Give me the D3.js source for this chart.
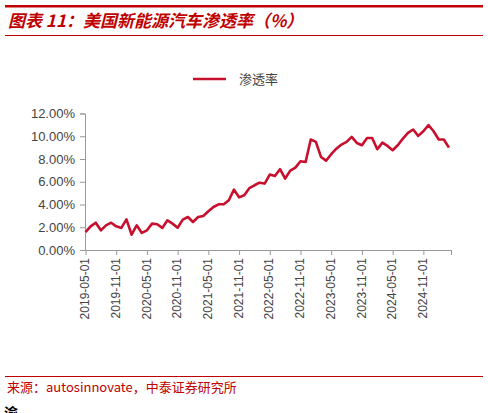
<!DOCTYPE html><html><head><meta charset="utf-8"><script src="https://cdn.jsdelivr.net/npm/d3@7"></script>
<style>body{margin:0;background:#fff}svg{font-family:"Liberation Sans",Arial,sans-serif}</style></head><body><svg id="c" width="488" height="413"></svg>
<script>
const startMonth = "2019-05";
const values = [1.58,2.08,2.40,1.73,2.17,2.40,2.08,1.94,2.70,1.35,2.17,1.50,1.73,2.32,2.26,1.94,2.61,2.32,1.96,2.67,2.90,2.46,2.90,2.99,3.40,3.78,4.02,4.02,4.37,5.31,4.63,4.81,5.43,5.69,5.92,5.84,6.63,6.51,7.10,6.28,6.98,7.24,7.80,7.74,9.71,9.50,8.18,7.86,8.42,8.91,9.27,9.50,9.94,9.41,9.21,9.85,9.85,8.86,9.44,9.15,8.77,9.21,9.79,10.29,10.59,10.03,10.44,10.97,10.44,9.71,9.71,9.00];
const tickLabels = ["2019-05-01","2019-11-01","2020-05-01","2020-11-01","2021-05-01","2021-11-01","2022-05-01","2022-11-01","2023-05-01","2023-11-01","2024-05-01","2024-11-01"];
const yTicks = [0,2,4,6,8,10,12];
const seriesName = "渗透率";
const title = "图表 11：美国新能源汽车渗透率（%）";
const source = "来源：autosinnovate，中泰证券研究所";

const svg = d3.select("#c");
const red = "#c8102e";
// header lines
svg.append("rect").attr("x",5).attr("y",5).attr("width",478).attr("height",2.5).attr("fill","#c00000");
svg.append("rect").attr("x",5).attr("y",35).attr("width",478).attr("height",1).attr("fill","#c00000");
svg.append("text").attr("x",8).attr("y",27).attr("fill","#c00000").attr("font-size",17).attr("font-weight","bold").attr("font-style","italic").attr("font-family","Noto Sans CJK SC").text(title);
// footer
svg.append("rect").attr("x",5).attr("y",376).attr("width",478).attr("height",1).attr("fill","#c00000");
svg.append("text").attr("x",7).attr("y",392).attr("fill","#c00000").attr("font-size",13).attr("font-family","Noto Sans CJK SC").text(source);
svg.append("text").attr("x",4).attr("y",418).attr("fill","#000").attr("font-size",14).attr("font-weight","bold").attr("font-family","Noto Sans CJK SC").text("渝");

const x = d3.scaleLinear().domain([-0.1,71.4]).range([85,451]);
const y = d3.scaleLinear().domain([0,12]).range([250,113.5]);

const ya = svg.append("g").attr("transform","translate(85,0)").call(d3.axisLeft(y).tickValues(yTicks).tickFormat(d=>d.toFixed(2)+"%").tickSize(5));
ya.selectAll("text").attr("font-size",13).attr("fill","#444").attr("dx",-2);
ya.selectAll("line,path").attr("stroke","#999");

const xa = svg.append("g").attr("transform","translate(0,250)").call(d3.axisBottom(x).tickValues(d3.range(0,72,6).concat([71.4])).tickFormat((d,i)=>tickLabels[i]||"").tickSize(5).tickSizeOuter(0));
xa.selectAll("text").attr("font-size",12).attr("fill","#444").attr("transform","rotate(-90)").attr("text-anchor","end").attr("dx",-8).attr("dy",-2.5).attr("x",0).attr("y",0).attr("dominant-baseline","middle").attr("dy","0");
xa.selectAll("line,path").attr("stroke","#999");

svg.append("path").datum(values).attr("fill","none").attr("stroke",red).attr("stroke-width",2.6).attr("stroke-linejoin","round")
  .attr("d",d3.line().x((d,i)=>x(i)).y(d=>y(d)));

// legend
svg.append("line").attr("x1",193).attr("x2",226).attr("y1",79).attr("y2",79).attr("stroke",red).attr("stroke-width",2.6);
svg.append("text").attr("x",239).attr("y",84).attr("font-size",13).attr("fill","#444").attr("font-family","Noto Sans CJK SC").text(seriesName);
</script></body></html>
